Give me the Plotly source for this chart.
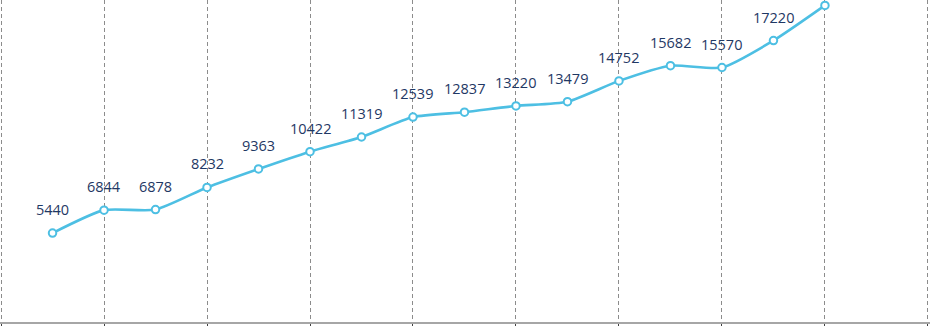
import plotly.graph_objects as go

positions = list(range(1, 17))
values = [5440, 6844, 6878, 8232, 9363, 10422, 11319, 12539, 12837, 13220,
          13479, 14752, 15682, 15570, 17220, 19370]
# the last point's label lies above the visible area in the reference
labels = [str(v) for v in values[:-1]] + [""]

fig = go.Figure()
fig.add_trace(go.Scatter(
    x=positions, y=values,
    mode="lines+markers",
    line=dict(color="#4DBFE3", width=2.6, shape="spline", smoothing=0.6),
    marker=dict(size=7.5, color="white", line=dict(color="#4DBFE3", width=2)),
    cliponaxis=True, hoverinfo="skip",
))
for xv, yv, t in zip(positions, values, labels):
    if t:
        fig.add_annotation(
            x=xv, y=yv, text=t, showarrow=False,
            yanchor="bottom", xanchor="center", yshift=12,
            font=dict(family="Open Sans", size=14.5, color="#1F3864"),
        )

fig.update_layout(
    width=930, height=326,
    margin=dict(l=0, r=0, t=0, b=4),
    plot_bgcolor="white", paper_bgcolor="white",
    showlegend=False,
)
fig.update_xaxes(
    range=[-0.02, 18.04], tickmode="linear", tick0=0, dtick=2,
    showgrid=True, gridcolor="#8c8c8c", griddash="4px,3px", gridwidth=1,
    showline=True, linecolor="#a6a6a6", linewidth=2,
    ticks="outside", ticklen=5, tickcolor="#404040", tickwidth=1,
    showticklabels=False, zeroline=False,
)
fig.update_yaxes(
    range=[0, 19700], showgrid=False, showticklabels=False,
    zeroline=False, showline=False,
)
fig.write_html("out.html", config={"displayModeBar": False},
               post_script="document.body.style.margin='0';")
